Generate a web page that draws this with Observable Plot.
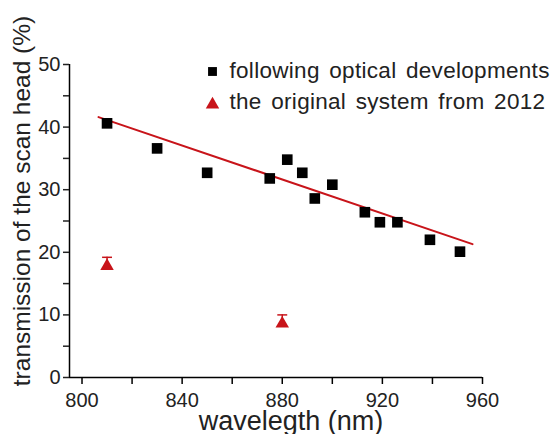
<!DOCTYPE html>
<html><head><meta charset="utf-8">
<script src="https://cdn.jsdelivr.net/npm/d3@7"></script>
<script src="https://cdn.jsdelivr.net/npm/@observablehq/plot@0.6"></script>
<style>
html,body{margin:0;padding:0;background:#fff;}
svg{font-family:"Liberation Sans",Arial,sans-serif;}
</style></head><body>
<div id="chart"></div>
<script>
const newWavelength = [810, 830, 850, 875, 882, 888, 893, 900, 913, 919, 926, 939, 951];
const newTransmission = [40.6, 36.6, 32.7, 31.8, 34.8, 32.7, 28.6, 30.8, 26.4, 24.8, 24.8, 22.0, 20.1];
const oldWavelength = [810, 880];
const oldTransmission = [17.8, 8.6];
const oldError = [1.4, 1.4];
const fitWavelength = [806.6, 956];
const fitTransmission = [41.6, 21.3];
const xTicks = [800, 820, 840, 860, 880, 900, 920, 940, 960];
const yTicks = [0, 5, 10, 15, 20, 25, 30, 35, 40, 45, 50];
const legendLabels = ["following optical developments", "the original system from 2012"];
const xTitle = "wavelegth (nm)";
const yTitle = "transmission of the scan head (%)";

const newPts = newWavelength.map((x, i) => ({x, y: newTransmission[i]}));
const oldPts = oldWavelength.map((x, i) => ({x, y: oldTransmission[i], top: oldTransmission[i] + oldError[i]}));
const fitPts = fitWavelength.map((x, i) => ({x, y: fitTransmission[i]}));
const red = "#c8141a";
const cap = {draw(ctx, size) { const w = Math.sqrt(size); ctx.moveTo(-w, 0); ctx.lineTo(w, 0); }};

const plot = Plot.plot({
  width: 556, height: 434,
  marginLeft: 69, marginRight: 74, marginTop: 64, marginBottom: 57,
  style: {fontFamily: "'Liberation Sans', Arial, sans-serif", background: "#fff"},
  x: {domain: [795, 960]},
  y: {domain: [0, 50]},
  marks: [
    Plot.ruleY([0], {stroke: "#000", strokeWidth: 1.5}),
    Plot.ruleX([795], {stroke: "#000", strokeWidth: 1.5}),
    Plot.axisX({ticks: xTicks, tickSize: 7, tickPadding: 8, fontSize: 20, stroke: "#000", strokeWidth: 1.5,
      tickFormat: d => d % 40 === 0 ? d : "", label: null, color: "#222"}),
    Plot.axisY({ticks: yTicks, tickSize: 6, tickPadding: 3, fontSize: 20, strokeWidth: 1.5,
      tickFormat: d => d % 10 === 0 ? d : "", label: null, color: "#222"}),
    Plot.line(fitPts, {x: "x", y: "y", stroke: red, strokeWidth: 2}),
    Plot.ruleX(oldPts, {x: "x", y1: "y", y2: "top", stroke: red, strokeWidth: 1.5}),
    Plot.dot(oldPts, {x: "x", y: "top", symbol: cap, r: 2.8, stroke: red, strokeWidth: 1.5}),
    Plot.dot(oldPts, {x: "x", y: "y", symbol: "triangle", r: 5, fill: red}),
    Plot.dot(newPts, {x: "x", y: "y", symbol: "square", r: 6, fill: "#000"}),
    Plot.dot([0], {frameAnchor: "top-left", dx: 143, dy: 7, symbol: "square", r: 5, fill: "#000"}),
    Plot.dot([0], {frameAnchor: "top-left", dx: 143, dy: 40, symbol: "triangle", r: 5, fill: red}),
    Plot.text([legendLabels[0]], {text: d => d, frameAnchor: "top-left", dx: 160, dy: 6, textAnchor: "start", lineAnchor: "middle", fontSize: 22.5, fill: "#222"}),
    Plot.text([legendLabels[1]], {text: d => d, frameAnchor: "top-left", dx: 160, dy: 37, textAnchor: "start", lineAnchor: "middle", fontSize: 22.5, fill: "#222"}),
    Plot.text([xTitle], {text: d => d, frameAnchor: "bottom", dx: 15, dy: 44, textAnchor: "middle", lineAnchor: "middle", fontSize: 27, fill: "#222"}),
    Plot.text([yTitle], {text: d => d, frameAnchor: "left", dx: -47, dy: -20, rotate: -90, textAnchor: "middle", lineAnchor: "middle", fontSize: 24.5, fill: "#222"})
  ]
});
plot.querySelectorAll("text").forEach(t => {
  if (t.textContent === legendLabels[0] || t.textContent === legendLabels[1]) {
    t.style.letterSpacing = "0.3px";
    t.style.wordSpacing = "3px";
  }
});
document.getElementById("chart").appendChild(plot);
</script>
</body></html>
